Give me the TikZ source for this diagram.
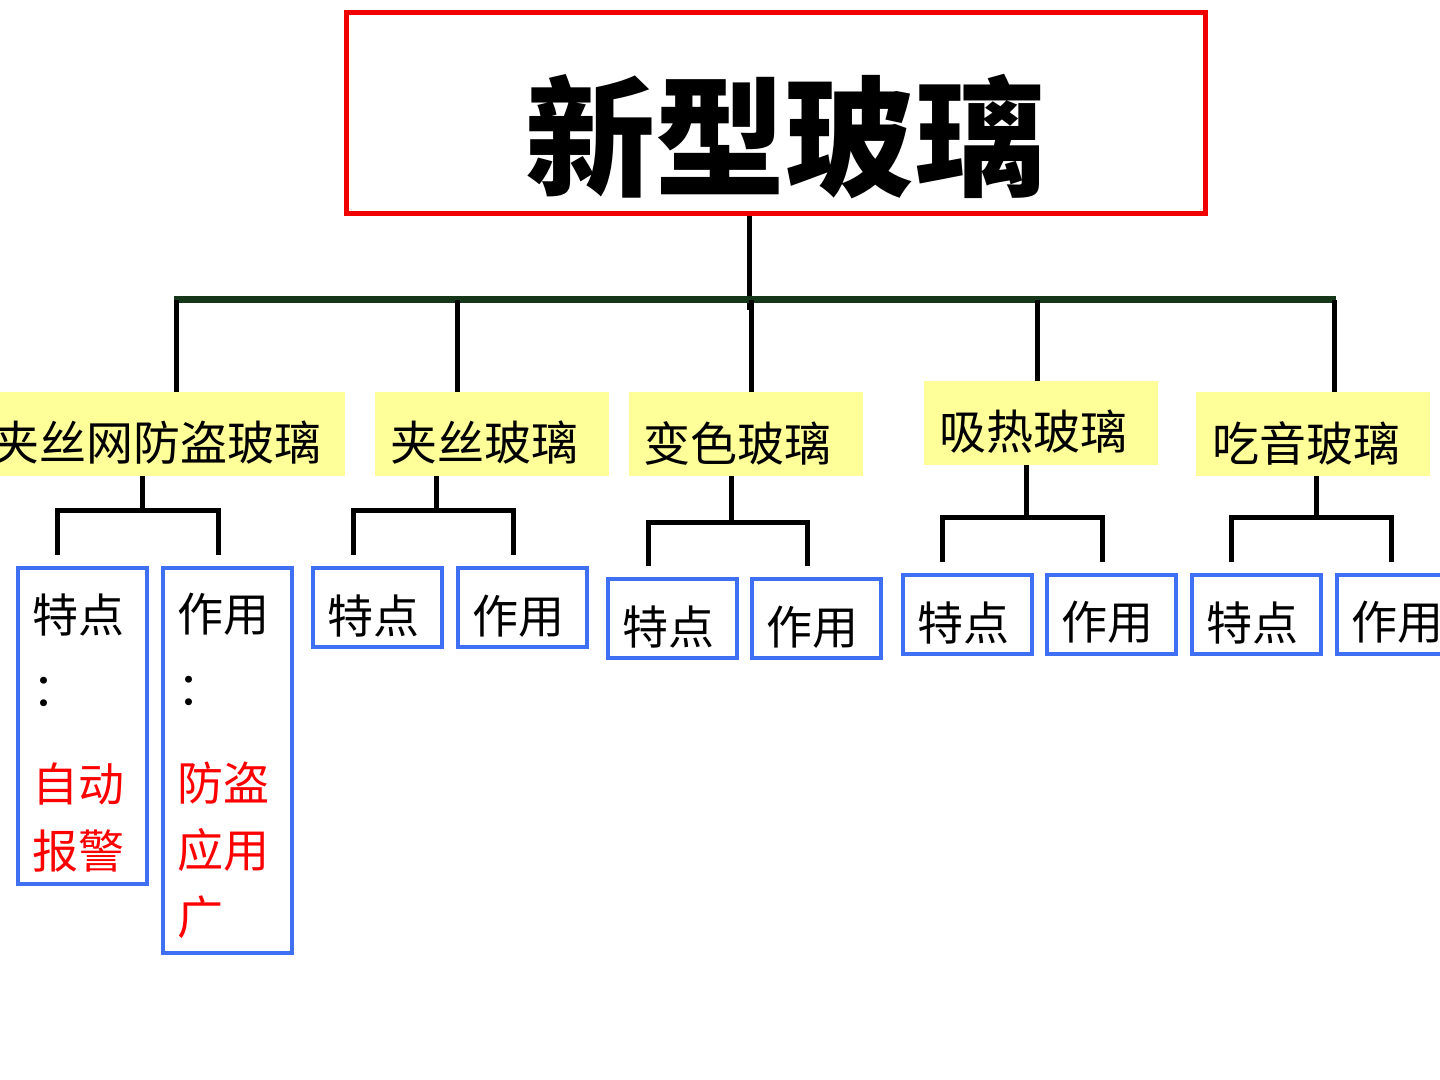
\documentclass[tikz,border=0pt]{standalone}
\usepackage{fontspec}
\newfontfamily\cjk{Noto Sans CJK SC}
\definecolor{yfill}{HTML}{FFFF99}
\definecolor{bblue}{HTML}{3F6FF2}
\definecolor{rbord}{HTML}{F00000}
\definecolor{gbar}{HTML}{16361A}
\begin{document}
\begin{tikzpicture}[x=0.5pt,y=-0.5pt,
  redbox/.style={draw=rbord, line width=2.5pt, minimum width=429.5pt, minimum height=100.5pt, inner sep=0},
  ttl/.style={font=\cjk\bfseries\fontsize{65pt}{70pt}\selectfont, inner sep=0},
  ybox/.style={fill=yfill, draw=none, minimum width=117pt, minimum height=42pt, inner sep=0},
  ylbl/.style={font=\cjk\fontsize{23.5pt}{28pt}\selectfont, inner sep=0},
  bbox/.style={draw=bblue, line width=2pt, minimum width=64.5pt, minimum height=39.5pt, inner sep=0},
  blbl/.style={font=\cjk\fontsize{23pt}{33.5pt}\selectfont, inner sep=0},
  conn/.style={line width=2.5pt, black},
  gline/.style={line width=3.5pt, gbar},
  drop/.style={conn, shorten <=5.5pt, shorten >=5.5pt}
]
\useasboundingbox (0,0) rectangle (1440,1080);
\clip (0,0) rectangle (1440,1080);

% top
\node[redbox] (top) at (776,113) {};
\node[ttl] (title) at (785,137) {新型玻璃};

% yellow boxes
\node[ybox, minimum width=182.5pt] (y1) at (162.5,434) {};
\node[ybox] (y2) at (492,434) {};
\node[ybox] (y3) at (745.5,434) {};
\node[ybox] (y4) at (1040.5,423) {};
\node[ybox] (y5) at (1313,434) {};
\node[ylbl] (l1) at (157,443) {夹丝网防盗玻璃};
\node[ylbl] (l2) at (484,443) {夹丝玻璃};
\node[ylbl] (l3) at (737,443) {变色玻璃};
\node[ylbl] (l4) at (1033,432) {吸热玻璃};
\node[ylbl] (l5) at (1306,443) {吃音玻璃};

% blue boxes
\node[bbox, minimum height=158pt] (b1a) at (82.5,726) {};
\node[bbox, minimum height=192.5pt] (b1b) at (227.5,760.5) {};
\node[bbox] (b2a) at (377.5,607.5) {};
\node[bbox] (b2b) at (522.5,607.5) {};
\node[bbox] (b3a) at (672.5,618.5) {};
\node[bbox] (b3b) at (816.5,618.5) {};
\node[bbox] (b4a) at (967.5,614) {};
\node[bbox] (b4b) at (1111.5,614) {};
\node[bbox] (b5a) at (1256.5,614) {};
\node[bbox] (b5b) at (1401.5,614) {};

\node[blbl, align=left, anchor=north west] (t1a) at (32,593)
  {特点\\[3.5pt]：\\[14pt]\textcolor{red}{自动}\\\textcolor{red}{报警}};
\node[blbl, align=left, anchor=north west] (t1b) at (177,593)
  {作用\\[3.5pt]：\\[14pt]\textcolor{red}{防盗}\\\textcolor{red}{应用}\\\textcolor{red}{广}};
\node[blbl] (t2a) at (373,616) {特点};
\node[blbl] (t2b) at (518,616) {作用};
\node[blbl] (t3a) at (668,627) {特点};
\node[blbl] (t3b) at (812,627) {作用};
\node[blbl] (t4a) at (963,622.5) {特点};
\node[blbl] (t4b) at (1107,622.5) {作用};
\node[blbl] (t5a) at (1252,622.5) {特点};
\node[blbl] (t5b) at (1397,622.5) {作用};

% main connectors
\coordinate (c0) at (749,310);
\coordinate (barL) at (174,300);
\coordinate (barR) at (1336,300);
\coordinate (c1) at (176,300);
\coordinate (c2) at (457,300);
\coordinate (c3) at (751,300);
\coordinate (c4) at (1037,300);
\coordinate (c5) at (1334,300);
\draw[conn] (c0 |- top.south) -- (c0);
\draw[gline] (barL) -- (barR);
\draw[conn] (c1) -- (c1 |- y1.north);
\draw[conn] (c2) -- (c2 |- y2.north);
\draw[conn] (c3) -- (c3 |- y3.north);
\draw[conn] (c4) -- (c4 |- y4.north);
\draw[conn] (c5) -- (c5 |- y5.north);

% sub brackets
\coordinate (s1) at (142,510); \coordinate (p1) at (57,510); \coordinate (q1) at (218,510);
\coordinate (s2) at (436,510); \coordinate (p2) at (353,510); \coordinate (q2) at (513,510);
\coordinate (s3) at (731,522); \coordinate (p3) at (648,522); \coordinate (q3) at (807,522);
\coordinate (s4) at (1026,517); \coordinate (p4) at (942,517); \coordinate (q4) at (1102,517);
\coordinate (s5) at (1316,517); \coordinate (p5) at (1231,517); \coordinate (q5) at (1391,517);

\draw[conn] (y1.south -| s1) -- (s1);
\draw[drop] (b1a.north -| p1) -- (p1) -- (q1) -- (b1b.north -| q1);
\draw[conn] (y2.south -| s2) -- (s2);
\draw[drop] (b2a.north -| p2) -- (p2) -- (q2) -- (b2b.north -| q2);
\draw[conn] (y3.south -| s3) -- (s3);
\draw[drop] (b3a.north -| p3) -- (p3) -- (q3) -- (b3b.north -| q3);
\draw[conn] (y4.south -| s4) -- (s4);
\draw[drop] (b4a.north -| p4) -- (p4) -- (q4) -- (b4b.north -| q4);
\draw[conn] (y5.south -| s5) -- (s5);
\draw[drop] (b5a.north -| p5) -- (p5) -- (q5) -- (b5b.north -| q5);
\end{tikzpicture}
\end{document}
